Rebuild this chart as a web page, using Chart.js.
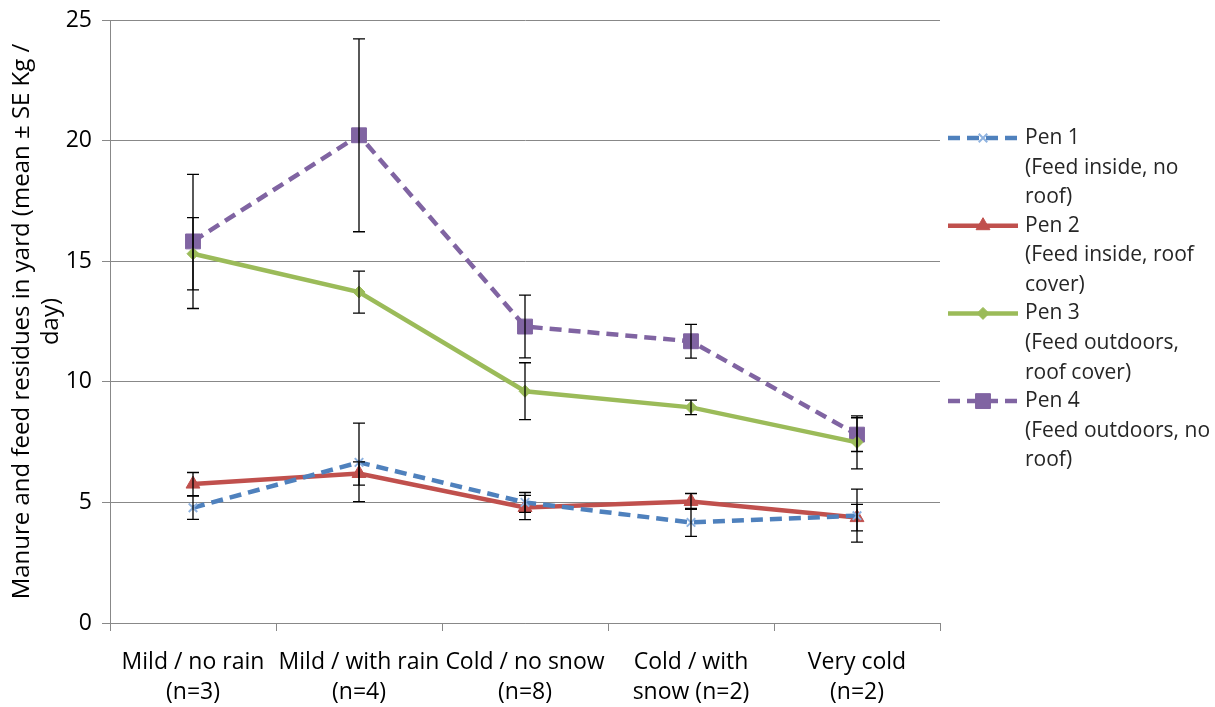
<!DOCTYPE html>
<html>
<head>
<meta charset="utf-8">
<script src="https://cdn.jsdelivr.net/npm/chart.js@4.4.1/dist/chart.umd.min.js"></script>
<style>
html,body{margin:0;padding:0;background:#fff;}
#wrap{width:1215px;height:707px;position:relative;}
</style>
</head>
<body>
<div id="wrap"><canvas id="c" width="1215" height="707"></canvas></div>
<script>
const categories = [["Mild / no rain","(n=3)"],["Mild / with rain","(n=4)"],["Cold / no snow","(n=8)"],["Cold / with","snow (n=2)"],["Very cold","(n=2)"]];
const seriesNames = ["Pen 1","Pen 2","Pen 3","Pen 4"];
const legendLabels = [["Pen 1","(Feed inside, no","roof)"],["Pen 2","(Feed inside, roof","cover)"],["Pen 3","(Feed outdoors,","roof cover)"],["Pen 4","(Feed outdoors, no","roof)"]];
const pen1 = [4.78, 6.66, 5.0, 4.17, 4.45];
const pen1Err = [0.48, 1.63, 0.41, 0.58, 1.1];
const pen2 = [5.76, 6.2, 4.79, 5.04, 4.37];
const pen2Err = [0.48, 0.48, 0.5, 0.33, 0.55];
const pen3 = [15.31, 13.72, 9.61, 8.94, 7.49];
const pen3Err = [1.5, 0.87, 1.18, 0.3, 1.1];
const pen4 = [15.82, 20.22, 12.29, 11.68, 7.81];
const pen4Err = [2.78, 4.0, 1.3, 0.7, 0.7];
const yTicks = [0,5,10,15,20,25];
const yTitle = ["Manure and feed residues in yard (mean \u00b1 SE Kg /","day)"];

const FONT = "'Open Sans', 'Liberation Sans', Arial, sans-serif";
const errs = [pen1Err, pen2Err, pen3Err, pen4Err];

const errorBarPlugin = {
  id: 'errorBars',
  afterDatasetsDraw(chart) {
    const ctx = chart.ctx;
    const ys = chart.scales.y;
    ctx.save();
    ctx.strokeStyle = '#000';
    ctx.lineWidth = 1.3;
    chart.data.datasets.forEach((ds, i) => {
      const meta = chart.getDatasetMeta(i);
      const e = errs[i];
      meta.data.forEach((pt, j) => {
        const v = ds.data[j];
        const top = ys.getPixelForValue(v + e[j]);
        const bot = ys.getPixelForValue(v - e[j]);
        const x = pt.x;
        ctx.beginPath();
        ctx.moveTo(x, top); ctx.lineTo(x, bot);
        ctx.moveTo(x - 6, top); ctx.lineTo(x + 6, top);
        ctx.moveTo(x - 6, bot); ctx.lineTo(x + 6, bot);
        ctx.stroke();
      });
    });
    ctx.restore();
  }
};

const legendPlugin = {
  id: 'sideLegend',
  afterDraw(chart) {
    const ctx = chart.ctx;
    const x0 = 948, x1 = 1018, xm = 983, xt = 1025;
    const lh = 29.7;
    ctx.save();
    chart.data.datasets.forEach((ds, i) => {
      const y = 138 + i * 87.7;
      ctx.strokeStyle = ds.borderColor;
      ctx.lineWidth = 4.5;
      ctx.setLineDash(ds.borderDash || []);
      ctx.beginPath();
      ctx.moveTo(x0, y); ctx.lineTo(x1, y);
      ctx.stroke();
      ctx.setLineDash([]);
      ctx.fillStyle = ds.pointBackgroundColor;
      ctx.strokeStyle = ds.pointBorderColor;
      ctx.lineWidth = ds.pointBorderWidth;
      Chart.helpers.drawPoint(ctx, {pointStyle: ds.pointStyle, radius: ds.pointRadius, rotation: 0, borderWidth: ds.pointBorderWidth}, xm, y);
      ctx.fillStyle = '#262626';
      ctx.font = "21px " + FONT;
      ctx.textBaseline = 'middle';
      ctx.textAlign = 'left';
      legendLabels[i].forEach((t, k) => ctx.fillText(t, xt, y + k * lh));
    });
    ctx.restore();
  }
};

const data = {
  labels: categories,
  datasets: [
    {label: seriesNames[0], data: pen1, borderColor: '#4F81BD', borderWidth: 4.5, borderDash: [12, 7],
     pointStyle: 'crossRot', pointRadius: 6, pointBorderWidth: 2, pointBackgroundColor: '#4F81BD', pointBorderColor: '#8FB3E0', tension: 0},
    {label: seriesNames[1], data: pen2, borderColor: '#C0504D', borderWidth: 4.5,
     pointStyle: 'triangle', pointRadius: 8, pointBorderWidth: 1, pointBackgroundColor: '#C0504D', pointBorderColor: '#C0504D', tension: 0},
    {label: seriesNames[2], data: pen3, borderColor: '#9BBB59', borderWidth: 4.5,
     pointStyle: 'rectRot', pointRadius: 6, pointBorderWidth: 1, pointBackgroundColor: '#9BBB59', pointBorderColor: '#9BBB59', tension: 0},
    {label: seriesNames[3], data: pen4, borderColor: '#8064A2', borderWidth: 4.5, borderDash: [12, 7],
     pointStyle: 'rect', pointRadius: 10.5, pointBorderWidth: 1, pointBackgroundColor: '#8064A2', pointBorderColor: '#8064A2', tension: 0}
  ]
};

new Chart(document.getElementById('c'), {
  type: 'line',
  data: data,
  plugins: [errorBarPlugin, legendPlugin],
  options: {
    responsive: false,
    animation: false,
    layout: {padding: {left: 0, right: 275, top: 20, bottom: 0}},
    plugins: {legend: {display: false}, tooltip: {enabled: false}},
    scales: {
      x: {
        offset: true,
        grid: {offset: true, drawOnChartArea: false, tickLength: 8, color: '#888', tickColor: '#888'},
        border: {color: '#888', width: 1},
        ticks: {color: '#000', font: {family: FONT, size: 23, lineHeight: 1.3}, padding: 17, maxRotation: 0, autoSkip: false},
        afterFit(s) { s.height = 84; s.paddingLeft = 0; s.paddingRight = 0; }
      },
      y: {
        min: 0, max: 25,
        afterBuildTicks(s) { s.ticks = yTicks.map(v => ({value: v})); },
        grid: {color: '#888', tickLength: 8, tickColor: '#888'},
        border: {color: '#888', width: 1},
        ticks: {color: '#000', font: {family: FONT, size: 23}, padding: 10},
        title: {display: true, text: yTitle, color: '#000', font: {family: FONT, size: 24, lineHeight: 1.2}, padding: {top: 8, bottom: 4}},
        afterFit(s) { s.width = 110; s.paddingTop = 0; s.paddingBottom = 0; }
      }
    }
  }
});
</script>
</body>
</html>
